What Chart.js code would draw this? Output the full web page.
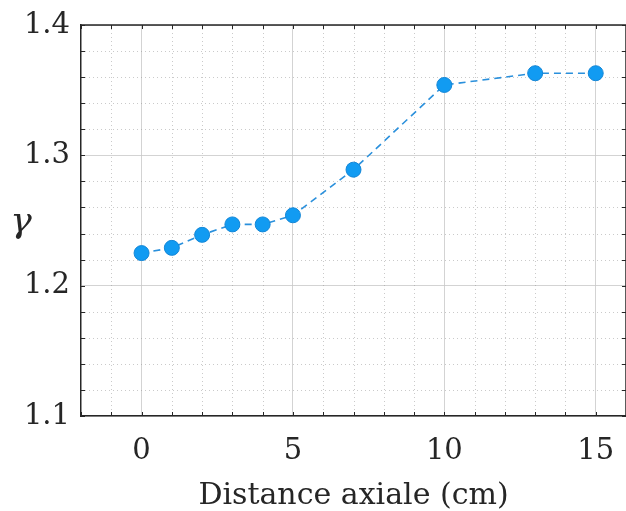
<!DOCTYPE html>
<html>
<head>
<meta charset="utf-8">
<script src="https://cdn.jsdelivr.net/npm/chart.js@4"></script>
<style>
  html, body { margin: 0; padding: 0; background: #ffffff; overflow: hidden; }
  canvas { display: block; }
</style>
</head>
<body>
<canvas id="c" width="626" height="511" style="width:626px;height:511px"></canvas>
<script>
// ---- data ----
const distances = [0, 1, 2, 3, 4, 5, 7, 10, 13, 15];
const gammaValues = [1.225, 1.229, 1.239, 1.247, 1.247, 1.254, 1.289, 1.354, 1.363, 1.363];
const xTickValues = [0, 5, 10, 15];
const yTickValues = [1.1, 1.2, 1.3, 1.4];
const xMinorValues = [-2, -1, 0, 1, 2, 3, 4, 5, 6, 7, 8, 9, 10, 11, 12, 13, 14, 15, 16];
const yMinorValues = [1.12, 1.14, 1.16, 1.18, 1.22, 1.24, 1.26, 1.28, 1.32, 1.34, 1.36, 1.38];
const xTitle = 'Distance axiale (cm)';
const yTitle = 'γ';

const TEXT = '#262626';
const FONT = "'DejaVu Serif', serif";
const RIGHT_OVERHANG = -2.5; // plot box extends slightly past the right edge

const minorGrid = {
  id: 'minorGrid',
  beforeDatasetsDraw(chart) {
    const {ctx, chartArea: a, scales: {x, y}} = chart;
    ctx.save();
    ctx.strokeStyle = 'rgba(150,150,150,0.5)';
    ctx.lineWidth = 1;
    ctx.setLineDash([1, 3]);
    xMinorValues.forEach(v => {
      if (xTickValues.includes(v)) return;
      const px = Math.round(x.getPixelForValue(v)) + 0.5;
      ctx.beginPath(); ctx.moveTo(px, a.top); ctx.lineTo(px, a.bottom); ctx.stroke();
    });
    yMinorValues.forEach(v => {
      const py = Math.round(y.getPixelForValue(v)) + 0.5;
      ctx.beginPath(); ctx.moveTo(a.left, py); ctx.lineTo(a.right, py); ctx.stroke();
    });
    ctx.setLineDash([]);
    // inner tick marks
    ctx.strokeStyle = TEXT;
    ctx.lineWidth = 1;
    xMinorValues.forEach(v => {
      const px = Math.round(x.getPixelForValue(v)) + 0.5;
      ctx.beginPath(); ctx.moveTo(px, a.bottom); ctx.lineTo(px, a.bottom - 4); ctx.stroke();
      ctx.beginPath(); ctx.moveTo(px, a.top); ctx.lineTo(px, a.top + 4); ctx.stroke();
    });
    yMinorValues.concat(yTickValues).forEach(v => {
      const py = Math.round(y.getPixelForValue(v)) + 0.5;
      ctx.beginPath(); ctx.moveTo(a.left, py); ctx.lineTo(a.left + 4, py); ctx.stroke();
      ctx.beginPath(); ctx.moveTo(a.right, py); ctx.lineTo(a.right - 4, py); ctx.stroke();
    });
    // box top / right
    ctx.lineWidth = 1.5;
    ctx.beginPath(); ctx.moveTo(a.left, a.top); ctx.lineTo(a.right, a.top); ctx.lineTo(a.right, a.bottom); ctx.stroke();
    ctx.restore();
  },
  afterDraw(chart) {
    const {ctx} = chart;
    ctx.save();
    ctx.fillStyle = TEXT;
    ctx.font = "italic 36px " + FONT;
    ctx.textAlign = 'center';
    ctx.textBaseline = 'middle';
    ctx.fillText(yTitle, 21, 223);
    ctx.restore();
  }
};

new Chart(document.getElementById('c'), {
  type: 'line',
  data: {
    datasets: [{
      data: distances.map((d, i) => ({x: d, y: gammaValues[i]})),
      borderColor: '#2a90dc',
      borderWidth: 1.6,
      borderDash: [7, 5],
      pointRadius: 7.5,
      pointBackgroundColor: '#119bf2',
      pointBorderColor: '#1486d6',
      pointBorderWidth: 1,
      tension: 0,
      fill: false,
      clip: false
    }]
  },
  options: {
    responsive: false,
    animation: false,
    layout: { autoPadding: false, padding: { top: 25, right: RIGHT_OVERHANG, bottom: 0, left: 0 } },
    plugins: { legend: { display: false }, tooltip: { enabled: false } },
    scales: {
      x: {
        type: 'linear',
        min: -2, max: 16,
        afterBuildTicks: s => { s.ticks = xTickValues.map(v => ({value: v})); },
        afterFit: s => { s.height = 95; s.paddingLeft = 0; s.paddingRight = RIGHT_OVERHANG; s.paddingTop = 0; s.paddingBottom = 0; },
        grid: { color: 'rgba(200,200,200,0.8)', lineWidth: 1, drawTicks: false },
        border: { color: TEXT, width: 1.5 },
        ticks: { color: TEXT, font: { family: FONT, size: 29 }, padding: 18, maxRotation: 0 },
        title: { display: true, text: xTitle, color: TEXT, font: { family: FONT, size: 30 }, padding: { top: 0, bottom: -3 } }
      },
      y: {
        type: 'linear',
        min: 1.1, max: 1.4,
        afterBuildTicks: s => { s.ticks = yTickValues.map(v => ({value: v})); },
        afterFit: s => { s.width = 81; s.paddingTop = 0; s.paddingBottom = 0; s.paddingLeft = 0; s.paddingRight = RIGHT_OVERHANG; },
        grid: { color: 'rgba(200,200,200,0.8)', lineWidth: 1, drawTicks: false },
        border: { color: TEXT, width: 1.5 },
        ticks: { color: TEXT, font: { family: FONT, size: 29 }, padding: 11, callback: v => v.toFixed(1) }
      }
    }
  },
  plugins: [minorGrid]
});
</script>
</body>
</html>
